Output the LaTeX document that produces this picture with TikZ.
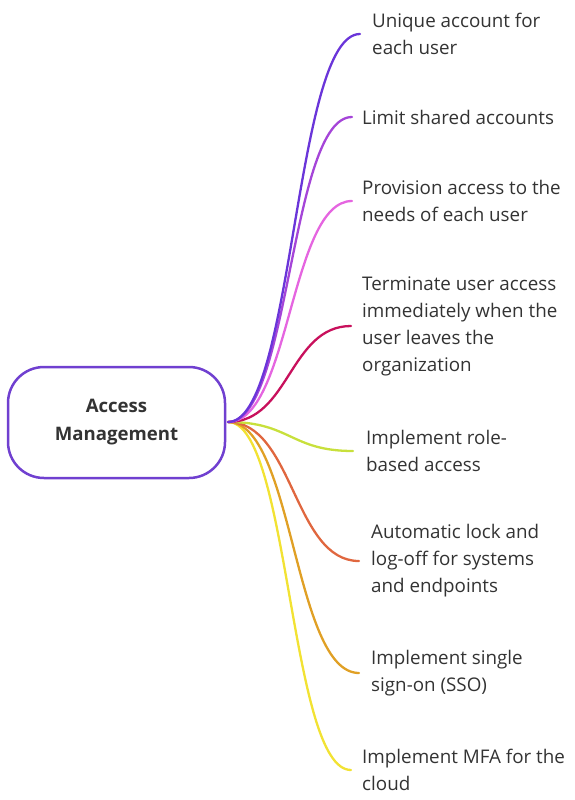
\documentclass[tikz,border=0pt]{standalone}
\usepackage{fontspec}
\setmainfont{Open Sans}
\usetikzlibrary{calc}
\definecolor{cone}{HTML}{6A35D9}
\definecolor{ctwo}{HTML}{A545D8}
\definecolor{cthree}{HTML}{E565E0}
\definecolor{cfour}{HTML}{C8105C}
\definecolor{cfive}{HTML}{C8E03C}
\definecolor{csix}{HTML}{E0673F}
\definecolor{cseven}{HTML}{E0A025}
\definecolor{ceight}{HTML}{F2E233}
\definecolor{boxc}{HTML}{7040D0}
\definecolor{txt}{HTML}{333333}
\tikzset{
  rootbox/.style={draw=boxc, line width=2.5pt, rounded corners=36pt, minimum width=217pt, minimum height=111pt, align=center, text=txt, font=\fontsize{18.6}{28}\selectfont\bfseries},
  leaf/.style={anchor=west, inner sep=0pt, align=left, text=txt, font=\fontsize{18.8}{27}\selectfont},
  branch/.style={line width=2.3pt, line cap=round}
}
\begin{document}
\begin{tikzpicture}[x=1pt,y=-1pt]
\useasboundingbox (0,0) rectangle (574,800);
\node[rootbox] (root) at (116.5,422.5) {Access\\Management};
\coordinate (o) at (228,422);
\node[leaf] (l1) at (372,34) {Unique account for\\each user};
\node[leaf] (l2) at (362,117) {Limit shared accounts};
\node[leaf] (l3) at (362,201) {Provision access to the\\needs of each user};
\node[leaf] (l4) at (362,326) {Terminate user access\\immediately when the\\user leaves the\\organization};
\node[leaf] (l5) at (366,451) {Implement role-\\based access};
\node[leaf] (l6) at (371,561) {Automatic lock and\\log-off for systems\\and endpoints};
\node[leaf] (l7) at (371,673) {Implement single\\sign-on (SSO)};
\node[leaf] (l8) at (362,770) {Implement MFA for the\\cloud};
\coordinate (e1) at ([xshift=-12pt]l1.west);
\coordinate (e2) at ([xshift=-10pt]l2.west);
\coordinate (e3) at ([xshift=-10pt]l3.west);
\coordinate (e4) at ([xshift=-11pt]l4.west);
\coordinate (e5) at ([xshift=-13pt]l5.west);
\coordinate (e6) at ([xshift=-12pt]l6.west);
\coordinate (e7) at ([xshift=-12pt]l7.west);
\coordinate (e8) at ([xshift=-11pt]l8.west);
\foreach \e/\c in {e8/ceight,e7/cseven,e6/csix,e5/cfive,e4/cfour,e3/cthree,e2/ctwo,e1/cone}{
  \draw[branch, draw=\c] let \p1=(o), \p2=(\e) in (o) .. controls ({(\x1+\x2)/2},\y1) and ({(\x1+\x2)/2},\y2) .. (\e);
}
\end{tikzpicture}
\end{document}
